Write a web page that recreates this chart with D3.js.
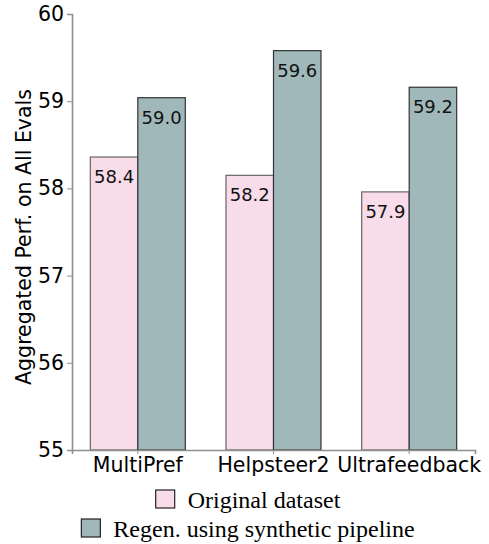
<!DOCTYPE html>
<html>
<head>
<meta charset="utf-8">
<script src="https://cdn.jsdelivr.net/npm/d3@7"></script>
<style>
  body { margin: 0; background: #fff; }
  svg { display: block; }
</style>
</head>
<body>
<svg id="chart" width="489" height="544"></svg>
<script>
// data
var datasets = ["MultiPref", "Helpsteer2", "Ultrafeedback"];
var seriesNames = ["Original dataset", "Regen. using synthetic pipeline"];
var originalVals = [58.36, 58.15, 57.96];
var regenVals = [59.04, 59.58, 59.16];
var originalLabels = ["58.4", "58.2", "57.9"];
var regenLabels = ["59.0", "59.6", "59.2"];
var yTicks = [55, 56, 57, 58, 59, 60];

var colors = ["#f9dcea", "#a0b8b9"];
var edges = ["#666666", "#333333"];

var svg = d3.select("#chart"),
    plotLeft = 72, plotRight = 475, plotTop = 14, plotBottom = 450;

var x = d3.scaleBand()
    .domain(datasets)
    .range([plotLeft, plotRight])
    .paddingInner(0.3)
    .paddingOuter(0.135);

var xs = d3.scaleBand()
    .domain(seriesNames)
    .range([0, x.bandwidth()]);

var y = d3.scaleLinear()
    .domain([55, 60])
    .range([plotBottom, plotTop]);

// rows of bar data built from the arrays
var rows = [];
datasets.forEach(function(d, i) {
  rows.push({cat: d, s: 0, v: originalVals[i], lab: originalLabels[i]});
  rows.push({cat: d, s: 1, v: regenVals[i], lab: regenLabels[i]});
});

var bars = svg.append("g");
bars.selectAll("rect")
  .data(rows)
  .enter().append("rect")
    .attr("x", function(d) { return x(d.cat) + xs(seriesNames[d.s]); })
    .attr("y", function(d) { return y(d.v); })
    .attr("width", xs.bandwidth())
    .attr("height", function(d) { return y(55) - y(d.v); })
    .attr("fill", function(d) { return colors[d.s]; })
    .attr("stroke", function(d) { return edges[d.s]; })
    .attr("stroke-width", 1.2);

bars.selectAll("text")
  .data(rows)
  .enter().append("text")
    .attr("x", function(d) { return x(d.cat) + xs(seriesNames[d.s]) + xs.bandwidth() / 2; })
    .attr("y", function(d) { return y(d.v) + 26; })
    .attr("text-anchor", "middle")
    .style("font-family", "DejaVu Sans")
    .style("font-size", "18px")
    .attr("fill", "#111")
    .text(function(d) { return d.lab; });

// axes
var yAxis = svg.append("g")
    .attr("transform", "translate(" + plotLeft + ",0)")
    .call(d3.axisLeft(y).tickValues(yTicks).tickFormat(d3.format("d")).tickSizeOuter(0).tickSize(5).tickPadding(3));

var xAxis = svg.append("g")
    .attr("transform", "translate(0," + plotBottom + ")")
    .call(d3.axisBottom(x).tickSizeOuter(0).tickSize(4).tickPadding(3));

[yAxis, xAxis].forEach(function(a) {
  a.attr("font-family", "DejaVu Sans").attr("font-size", 20.5);
  a.select(".domain").attr("stroke", "#8f8f8f").attr("stroke-width", 1.6);
  a.selectAll(".tick line").attr("stroke", "#8f8f8f").attr("stroke-width", 1);
  a.selectAll(".tick text").attr("fill", "#000");
});

svg.append("text")
    .attr("transform", "translate(31,237) rotate(-90)")
    .attr("text-anchor", "middle")
    .style("font-family", "DejaVu Sans")
    .style("font-size", "20.5px")
    .text("Aggregated Perf. on All Evals");

// legend, each row centred
var legendY = [508, 537], legendCx = 248;
seriesNames.forEach(function(name, i) {
  var row = svg.append("g");
  var t = row.append("text")
      .attr("y", legendY[i])
      .style("font-family", "Liberation Serif")
      .style("font-size", "24px")
      .text(name);
  var tw = t.node().getComputedTextLength();
  var total = 20 + 12 + tw;
  var x0 = legendCx - total / 2;
  t.attr("x", x0 + 32);
  row.append("rect")
      .attr("x", x0)
      .attr("y", legendY[i] - 18)
      .attr("width", 19)
      .attr("height", 18)
      .attr("fill", colors[i])
      .attr("stroke", "#222")
      .attr("stroke-width", 1.2);
});
</script>
</body>
</html>
